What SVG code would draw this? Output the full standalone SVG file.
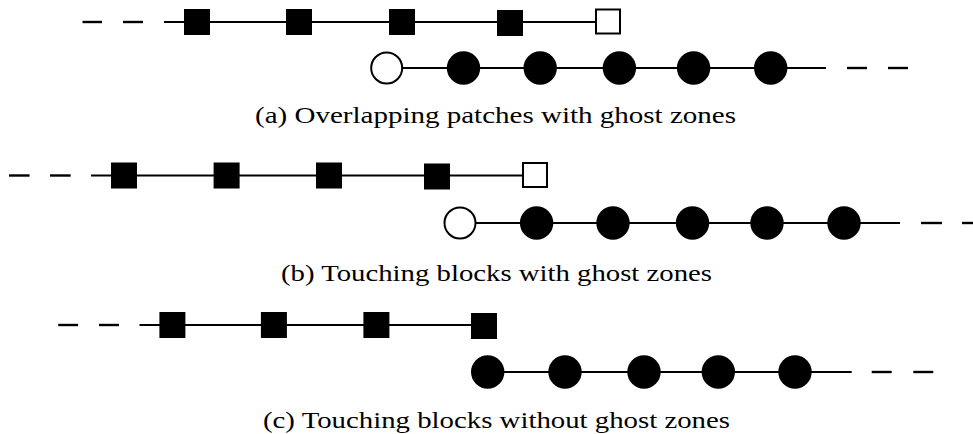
<svg xmlns="http://www.w3.org/2000/svg" width="973" height="434" viewBox="0 0 973 434">
<style>
.ln{stroke:#000;stroke-width:2;fill:none}
.ds{stroke:#000;stroke-width:2.4;fill:none}
.sq{fill:#000}
.osq{fill:#fff;stroke:#000;stroke-width:2}
.ci{fill:#000}
.oci{fill:#fff;stroke:#000;stroke-width:2}
.cap{font-family:"Liberation Serif","DejaVu Serif",serif;font-size:23px;fill:#000}
</style>
<rect width="973" height="434" fill="#fff"/>
<g id="connectors">
<!-- row a -->
<line class="ds" x1="82.5" y1="22" x2="102" y2="22"/>
<line class="ds" x1="123" y1="22" x2="143" y2="22"/>
<line class="ln" x1="164" y1="22" x2="596" y2="22"/>
<line class="ln" x1="397" y1="68" x2="826" y2="68"/>
<line class="ds" x1="847" y1="68" x2="867" y2="68"/>
<line class="ds" x1="888" y1="68" x2="908" y2="68"/>
<!-- row b -->
<line class="ds" x1="9" y1="175.5" x2="29.6" y2="175.5"/>
<line class="ds" x1="50" y1="175.5" x2="70.7" y2="175.5"/>
<line class="ln" x1="91" y1="175.5" x2="523" y2="175.5"/>
<line class="ln" x1="471" y1="223" x2="900" y2="223"/>
<line class="ds" x1="921" y1="223" x2="942" y2="223"/>
<line class="ds" x1="962" y1="223" x2="983" y2="223"/>
<!-- row c -->
<line class="ds" x1="58.2" y1="325" x2="78.1" y2="325"/>
<line class="ds" x1="99" y1="325" x2="119" y2="325"/>
<line class="ln" x1="139.5" y1="325" x2="484" y2="325"/>
<line class="ln" x1="487.7" y1="372" x2="851.7" y2="372"/>
<line class="ds" x1="871.7" y1="372" x2="891.7" y2="372"/>
<line class="ds" x1="913.3" y1="372" x2="933.3" y2="372"/>
</g>
<g id="row-a-squares">
<g id="a-sq1"><rect class="sq" x="184" y="9" width="26" height="26"/></g>
<g id="a-sq2"><rect class="sq" x="286" y="9" width="26" height="26"/></g>
<g id="a-sq3"><rect class="sq" x="389" y="9" width="26" height="26"/></g>
<g id="a-sq4"><rect class="sq" x="497" y="10" width="26" height="26"/></g>
<g id="a-ghost-sq"><rect class="osq" x="596" y="9.5" width="24" height="24"/></g>
</g>
<g id="row-a-circles">
<g id="a-ghost-ci"><circle class="oci" cx="386.7" cy="68" r="15.5"/></g>
<g id="a-ci1"><circle class="ci" cx="463.5" cy="68" r="16.7"/></g>
<g id="a-ci2"><circle class="ci" cx="540.2" cy="68" r="16.7"/></g>
<g id="a-ci3"><circle class="ci" cx="619.4" cy="68" r="16.7"/></g>
<g id="a-ci4"><circle class="ci" cx="693.6" cy="68" r="16.7"/></g>
<g id="a-ci5"><circle class="ci" cx="770.7" cy="68" r="16.7"/></g>
</g>
<g id="caption-a"><text class="cap" x="495.5" y="123" text-anchor="middle" textLength="481" lengthAdjust="spacingAndGlyphs">(a) Overlapping patches with ghost zones</text></g>
<g id="row-b-squares">
<g id="b-sq1"><rect class="sq" x="111" y="162.5" width="26" height="26"/></g>
<g id="b-sq2"><rect class="sq" x="213.6" y="162.5" width="26" height="26"/></g>
<g id="b-sq3"><rect class="sq" x="316" y="162.5" width="26" height="26"/></g>
<g id="b-sq4"><rect class="sq" x="424" y="163.5" width="26" height="26"/></g>
<g id="b-ghost-sq"><rect class="osq" x="523" y="163" width="24" height="24"/></g>
</g>
<g id="row-b-circles">
<g id="b-ghost-ci"><circle class="oci" cx="460" cy="223" r="15.5"/></g>
<g id="b-ci1"><circle class="ci" cx="536.6" cy="223" r="16.7"/></g>
<g id="b-ci2"><circle class="ci" cx="613" cy="223" r="16.7"/></g>
<g id="b-ci3"><circle class="ci" cx="692.5" cy="223" r="16.7"/></g>
<g id="b-ci4"><circle class="ci" cx="767" cy="223" r="16.7"/></g>
<g id="b-ci5"><circle class="ci" cx="844" cy="223" r="16.7"/></g>
</g>
<g id="caption-b"><text class="cap" x="496.5" y="281" text-anchor="middle" textLength="431" lengthAdjust="spacingAndGlyphs">(b) Touching blocks with ghost zones</text></g>
<g id="row-c-squares">
<g id="c-sq1"><rect class="sq" x="159.4" y="312" width="26" height="26"/></g>
<g id="c-sq2"><rect class="sq" x="260.9" y="312" width="26" height="26"/></g>
<g id="c-sq3"><rect class="sq" x="363.4" y="312" width="26" height="26"/></g>
<g id="c-sq4"><rect class="sq" x="471" y="313" width="26" height="26"/></g>
</g>
<g id="row-c-circles">
<g id="c-ci1"><circle class="ci" cx="487.7" cy="372" r="16.7"/></g>
<g id="c-ci2"><circle class="ci" cx="565" cy="372" r="16.7"/></g>
<g id="c-ci3"><circle class="ci" cx="644" cy="372" r="16.7"/></g>
<g id="c-ci4"><circle class="ci" cx="718.3" cy="372" r="16.7"/></g>
<g id="c-ci5"><circle class="ci" cx="795" cy="372" r="16.7"/></g>
</g>
<g id="caption-c"><text class="cap" x="496.5" y="428" text-anchor="middle" textLength="467" lengthAdjust="spacingAndGlyphs">(c) Touching blocks without ghost zones</text></g>
</svg>
